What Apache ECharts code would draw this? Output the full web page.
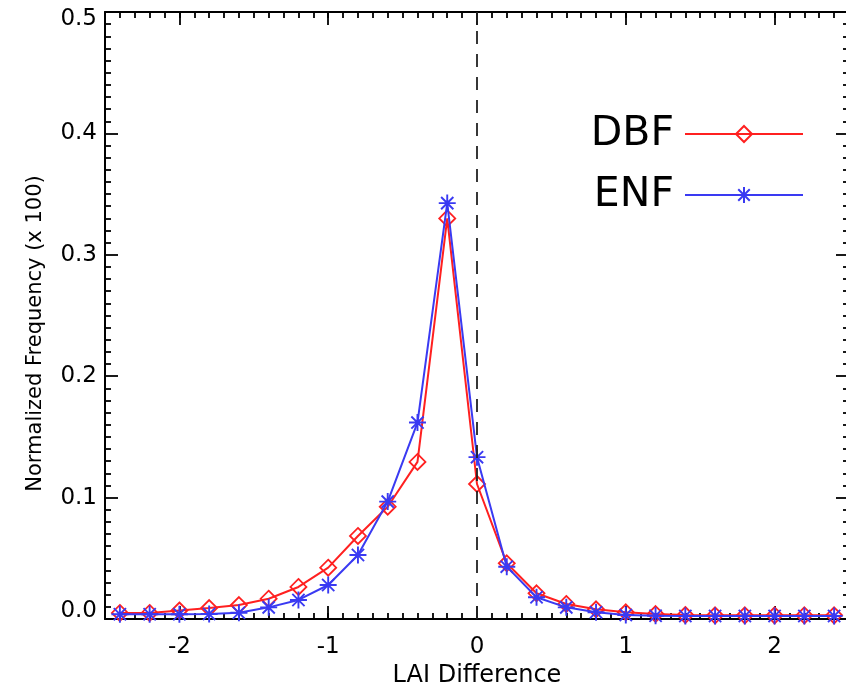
<!DOCTYPE html>
<html>
<head>
<meta charset="utf-8">
<script src="https://cdn.jsdelivr.net/npm/echarts@6/dist/echarts.min.js"></script>
<style>
html,body{margin:0;padding:0;background:#fff;}
#chart{width:846px;height:687px;}
</style>
</head>
<body>
<div id="chart"></div>
<script>
// ---- data ----
var lai = [-2.4,-2.2,-2.0,-1.8,-1.6,-1.4,-1.2,-1.0,-0.8,-0.6,-0.4,-0.2,0.0,0.2,0.4,0.6,0.8,1.0,1.2,1.4,1.6,1.8,2.0,2.2,2.4];
var dbf = [0.005,0.005,0.007,0.009,0.0115,0.0167,0.0264,0.0423,0.0684,0.0925,0.1294,0.330,0.1112,0.0459,0.0212,0.0124,0.008,0.0055,0.0041,0.0033,0.003,0.003,0.003,0.003,0.003];
var enf = [0.0039,0.0039,0.0039,0.0041,0.0052,0.0096,0.0157,0.028,0.0527,0.0967,0.1618,0.3426,0.1333,0.0431,0.0179,0.0096,0.0055,0.0033,0.0027,0.0025,0.0025,0.0025,0.0025,0.0025,0.0025];
var seriesNames = ['DBF','ENF'];
var refLineX = 0;
var xRange = [-2.5, 2.5];
var yRange = [0, 0.5];

var FONT = 'DejaVu Sans';
var RED = '#ff2020';
var BLUE = '#3a3af2';
var ASTERISK = 'path://M0,-1L0,1M-1,0L1,0M-0.72,-0.72L0.72,0.72M-0.72,0.72L0.72,-0.72';

function pairs(xs, ys){ return xs.map(function(x,i){ return [x, ys[i]]; }); }

function xMajor(pos, labels){
  return {
    type:'value', position:pos, min:xRange[0], max:xRange[1], splitNumber:5,
    axisLine:{show:true, onZero:false, lineStyle:{color:'#000', width:2}},
    axisTick:{show:true, inside:true, length:13, lineStyle:{color:'#000', width:1.8}},
    minorTick:{show:false}, splitLine:{show:false},
    axisLabel:{show:labels, showMinLabel:false, showMaxLabel:false, margin:17,
      fontFamily:FONT, fontSize:23, color:'#000',
      formatter:function(v){ return Math.abs(v - Math.round(v))<1e-9 ? String(Math.round(v)) : ''; }},
    name: labels ? 'LAI Difference' : '', nameLocation:'middle', nameGap:37,
    nameTextStyle:{fontFamily:FONT, fontSize:24, color:'#000'}
  };
}
function xMinor(pos){
  return {
    type:'value', position:pos, min:xRange[0], max:xRange[1], interval:0.1,
    axisLine:{show:false, onZero:false},
    axisTick:{show:true, inside:true, length:6, lineStyle:{color:'#000', width:1.8}},
    axisLabel:{show:false}, splitLine:{show:false}
  };
}
function yAxis(pos, labels){
  return {
    type:'value', position:pos, min:yRange[0], max:yRange[1], interval:0.1,
    axisLine:{show:true, onZero:false, lineStyle:{color:'#000', width:2}},
    axisTick:{show:true, inside:true, length:13, lineStyle:{color:'#000', width:1.8}},
    minorTick:{show:true, splitNumber:10, length:6, lineStyle:{color:'#000', width:1.8}},
    splitLine:{show:false}, minorSplitLine:{show:false},
    axisLabel:{show:labels, margin:8, fontFamily:FONT, fontSize:23, color:'#000',
      formatter:function(v){
        var s = v.toFixed(1);
        if (Math.abs(v - yRange[0])<1e-9) return '{lo|'+s+'}';
        if (Math.abs(v - yRange[1])<1e-9) return '{hi|'+s+'}';
        return s;
      },
      rich:{
        lo:{fontFamily:FONT, fontSize:23, color:'#000', padding:[0,0,15,0]},
        hi:{fontFamily:FONT, fontSize:23, color:'#000', padding:[15,0,0,0]}
      }},
    name: labels ? 'Normalized Frequency (x 100)' : '', nameLocation:'middle', nameGap:59,
    nameTextStyle:{fontFamily:FONT, fontSize:21, color:'#000', padding:[0,36,0,0]}
  };
}

var chart = echarts.init(document.getElementById('chart'), null, {renderer:'canvas'});
chart.setOption({
  backgroundColor:'#fff',
  animation:false,
  grid:{left:105, right:-3, top:12, bottom:68, outerBoundsMode:'none', containLabel:false},
  legend:{
    data:seriesNames, orient:'vertical', align:'right',
    right:37, top:108, itemWidth:118, itemHeight:20, itemGap:19,
    textStyle:{fontFamily:FONT, fontSize:41, color:'#000', lineHeight:42, padding:[0,6,0,0]},
    selectedMode:false
  },
  xAxis:[xMajor('bottom', true), xMinor('bottom'), xMajor('top', false), xMinor('top')],
  yAxis:[yAxis('left', true), yAxis('right', false)],
  series:[
    {
      name:seriesNames[0], type:'line', xAxisIndex:0, yAxisIndex:0,
      data:pairs(lai, dbf),
      symbol:'diamond', symbolSize:16,
      lineStyle:{color:RED, width:2},
      itemStyle:{color:'rgba(255,255,255,0)', borderColor:RED, borderWidth:1.8},
      emphasis:{disabled:true},
      markLine:{
        silent:true, symbol:['none','none'], label:{show:false},
        lineStyle:{color:'#222', type:[13,10], width:1.8},
        data:[{xAxis:refLineX}]
      },
      z:2
    },
    {
      name:seriesNames[1], type:'line', xAxisIndex:0, yAxisIndex:0,
      data:pairs(lai, enf),
      symbol:ASTERISK, symbolSize:17,
      lineStyle:{color:BLUE, width:2},
      itemStyle:{color:BLUE, borderColor:BLUE, borderWidth:1.9},
      emphasis:{disabled:true},
      z:3
    }
  ]
});
</script>
</body>
</html>
